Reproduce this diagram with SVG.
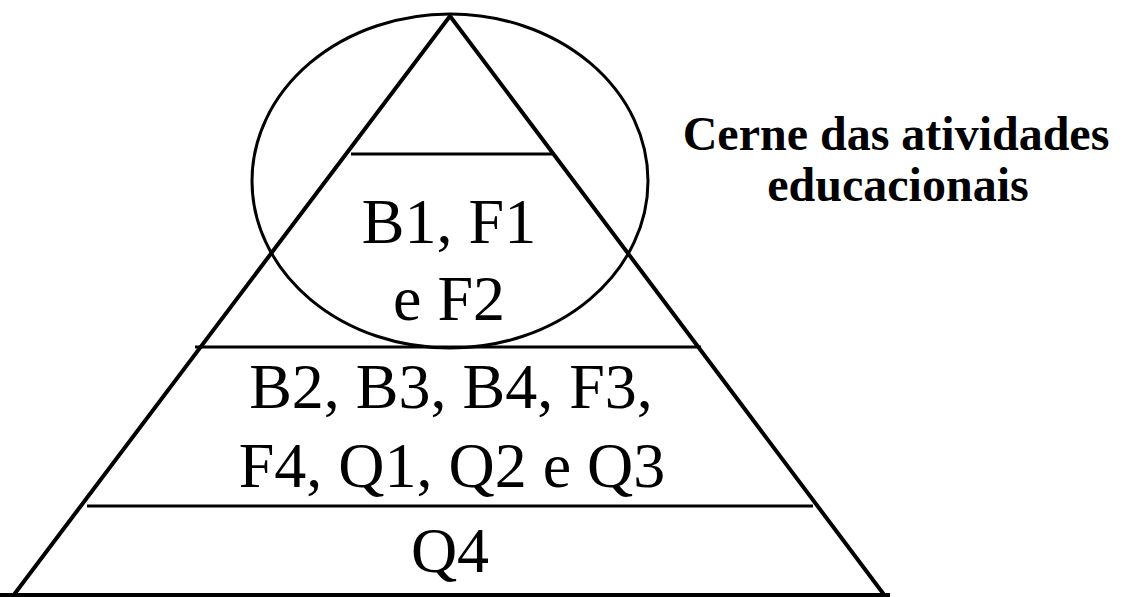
<svg xmlns="http://www.w3.org/2000/svg" width="1122" height="597" viewBox="0 0 1122 597">
<style>
.edge{stroke:#000;stroke-width:4;fill:none;stroke-linejoin:miter}
.div{stroke:#000;stroke-width:3;fill:none}
.ell{stroke:#000;stroke-width:3;fill:none}
.big{font-family:"Liberation Serif","Times New Roman",serif;font-size:64px;fill:#000;text-anchor:middle}
.lbl{font-family:"Liberation Serif","Times New Roman",serif;font-size:48px;font-weight:bold;fill:#000;text-anchor:middle}
</style>
<rect width="1122" height="597" fill="#fff"/>
<g id="pyramid">
<polyline class="edge" points="13,596 450,16 885,596"/>
<line class="edge" x1="0" y1="595" x2="890" y2="595"/>
</g>
<g id="connectors">
<line class="div" x1="351" y1="154" x2="552" y2="154"/>
<line class="div" x1="195" y1="347" x2="701" y2="347"/>
<line class="div" x1="87" y1="506" x2="813" y2="506"/>
</g>
<g id="core-ellipse">
<ellipse class="ell" cx="450" cy="181" rx="198" ry="167"/>
</g>
<g id="tier1">
<text class="big" x="449" y="243">B1, F1</text>
<text class="big" x="449" y="320">e F2</text>
</g>
<g id="tier2">
<text class="big" x="451" y="408">B2, B3, B4, F3,</text>
<text class="big" x="452" y="487">F4, Q1, Q2 e Q3</text>
</g>
<g id="tier3">
<text class="big" x="450" y="572">Q4</text>
</g>
<g id="label">
<text class="lbl" x="896" y="150">Cerne das atividades</text>
<text class="lbl" x="898" y="201">educacionais</text>
</g>
</svg>
